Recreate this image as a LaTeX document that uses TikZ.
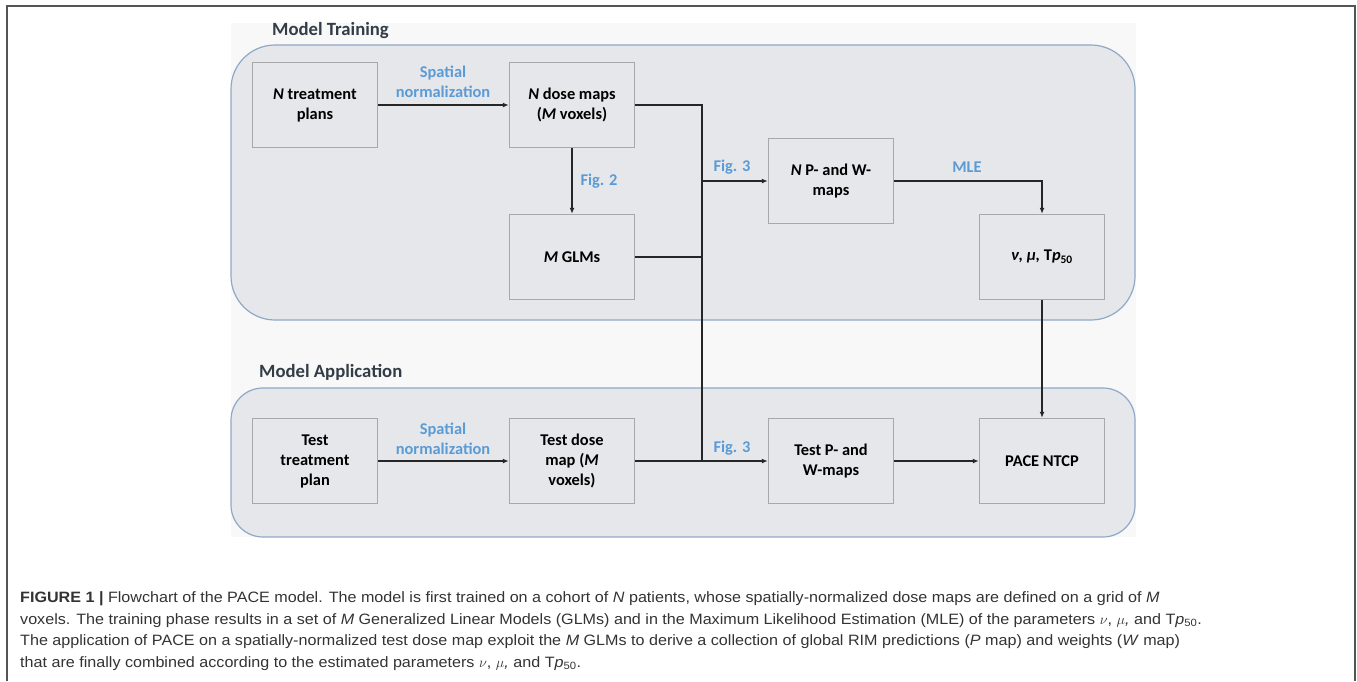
\documentclass[tikz,border=0pt]{standalone}
\usepackage{fontspec}
\setmainfont{Carlito}
\newfontfamily\capfont[FakeStretch=1.075]{Liberation Sans}
\usetikzlibrary{arrows.meta}
\definecolor{panelfill}{HTML}{E6E7EB}
\definecolor{panelline}{HTML}{8FA8C8}
\definecolor{nodeline}{HTML}{A8A8A8}
\definecolor{linecol}{HTML}{262626}
\definecolor{lblblue}{HTML}{5B9BD5}
\definecolor{titlecol}{HTML}{333D47}
\definecolor{capcol}{HTML}{333333}
\definecolor{framecol}{HTML}{555555}
\definecolor{faint}{HTML}{F8F8F8}
\tikzset{
  panel/.style={draw=panelline, line width=1.2pt, fill=panelfill, inner sep=0pt},
  nbox/.style={draw=nodeline, line width=1.5pt, fill=panelfill, minimum width=125pt, minimum height=85pt,
    align=center, inner sep=0pt, font=\fontsize{16.4}{20}\selectfont\bfseries, text=black},
  conn/.style={draw=linecol, line width=1.2pt},
  arr/.style={conn, -{Latex[length=6pt,width=5pt]}},
  lbl/.style={text=lblblue, font=\fontsize{16.4}{19.5}\selectfont\bfseries, align=center, inner sep=0pt},
  ttl/.style={text=titlecol, font=\fontsize{18.7}{20}\selectfont\bfseries, inner sep=0pt},
  capline/.style={anchor=base west, inner sep=0pt, text=capcol, font=\capfont\fontsize{15}{17}\selectfont}
}
\begin{document}
\begin{tikzpicture}[x=1pt,y=-1pt]
\useasboundingbox (0,0) rectangle (1357,681);
% outer frame
\draw[framecol, line width=1.5pt] (7,681) -- (7,6) -- (1355,6) -- (1355,681);
% faint background
\fill[faint] (231,23) rectangle (1136,537);
% panels
\node[panel, rounded corners=44pt, minimum width=904pt, minimum height=275pt] (train) at (683,182.5) {};
\node[panel, rounded corners=32pt, minimum width=904pt, minimum height=149pt] (appl) at (683,462.5) {};
\node[ttl, anchor=west] (ttrain) at (272,31) {Model Training};
\node[ttl, anchor=west] (tappl) at (259,372) {Model Application};
% training nodes
\node[nbox] (plans) at (315,105) {\textit{N} treatment\\plans};
\node[nbox] (dose) at (572,105) {\textit{N} dose maps\\(\textit{M} voxels)};
\node[nbox] (glm) at (572,257) {\textit{M} GLMs};
\node[nbox] (nmaps) at (831,181) {\textit{N} P- and W-\\maps};
\node[nbox] (params) at (1042,257) {\textit{ν, μ,} T\textit{p}\textsubscript{50}};
% application nodes
\node[nbox] (tplan) at (315,461) {Test\\treatment\\plan};
\node[nbox] (tdose) at (572,461) {Test dose\\map (\textit{M}\\voxels)};
\node[nbox] (tpw) at (831,461) {Test P- and\\W-maps};
\node[nbox] (pace) at (1042,461) {PACE NTCP};
% junction coordinates
\coordinate (j1) at (702,105);
\coordinate (j2) at (702,181);
\coordinate (j3) at (702,257);
\coordinate (j4) at (702,461);
% connectors
\draw[arr] (plans) -- (dose);
\draw[arr] (dose) -- (glm);
\draw[conn] (dose.east) -- (j1) -- (j4);
\draw[conn] (glm.east) -- (j3);
\draw[arr] (j2) -- (nmaps.west);
\draw[arr] (nmaps.east) -| (params.north);
\draw[arr] (params) -- (pace);
\draw[arr] (tplan) -- (tdose);
\draw[arr] (tdose) -- (tpw);
\draw[arr] (tpw) -- (pace);
% labels
\node[lbl] (l1) at (443,82) {Spatial\\normalization};
\node[lbl] (l2) at (443,439) {Spatial\\normalization};
\node[lbl] (l3) at (599,181) {Fig. 2};
\node[lbl] (l4) at (732,167) {Fig. 3};
\node[lbl] (l5) at (732,448) {Fig. 3};
\node[lbl] (l6) at (967,167) {MLE};
% caption
\node[capline] (c1) at (20,602) {\textbf{FIGURE 1 |} Flowchart of the PACE model. The model is first trained on a cohort of \textit{N} patients, whose spatially-normalized dose maps are defined on a grid of \textit{M}};
\node[capline] (c2) at (20,624) {voxels. The training phase results in a set of \textit{M} Generalized Linear Models (GLMs) and in the Maximum Likelihood Estimation (MLE) of the parameters $\nu$, $\mu$\textit{,} and T\textit{p}\textsubscript{50}.};
\node[capline] (c3) at (20,645.5) {The application of PACE on a spatially-normalized test dose map exploit the \textit{M} GLMs to derive a collection of global RIM predictions (\textit{P} map) and weights (\textit{W} map)};
\node[capline] (c4) at (20,667) {that are finally combined according to the estimated parameters $\nu$, $\mu$\textit{,} and T\textit{p}\textsubscript{50}.};
\end{tikzpicture}
\end{document}
